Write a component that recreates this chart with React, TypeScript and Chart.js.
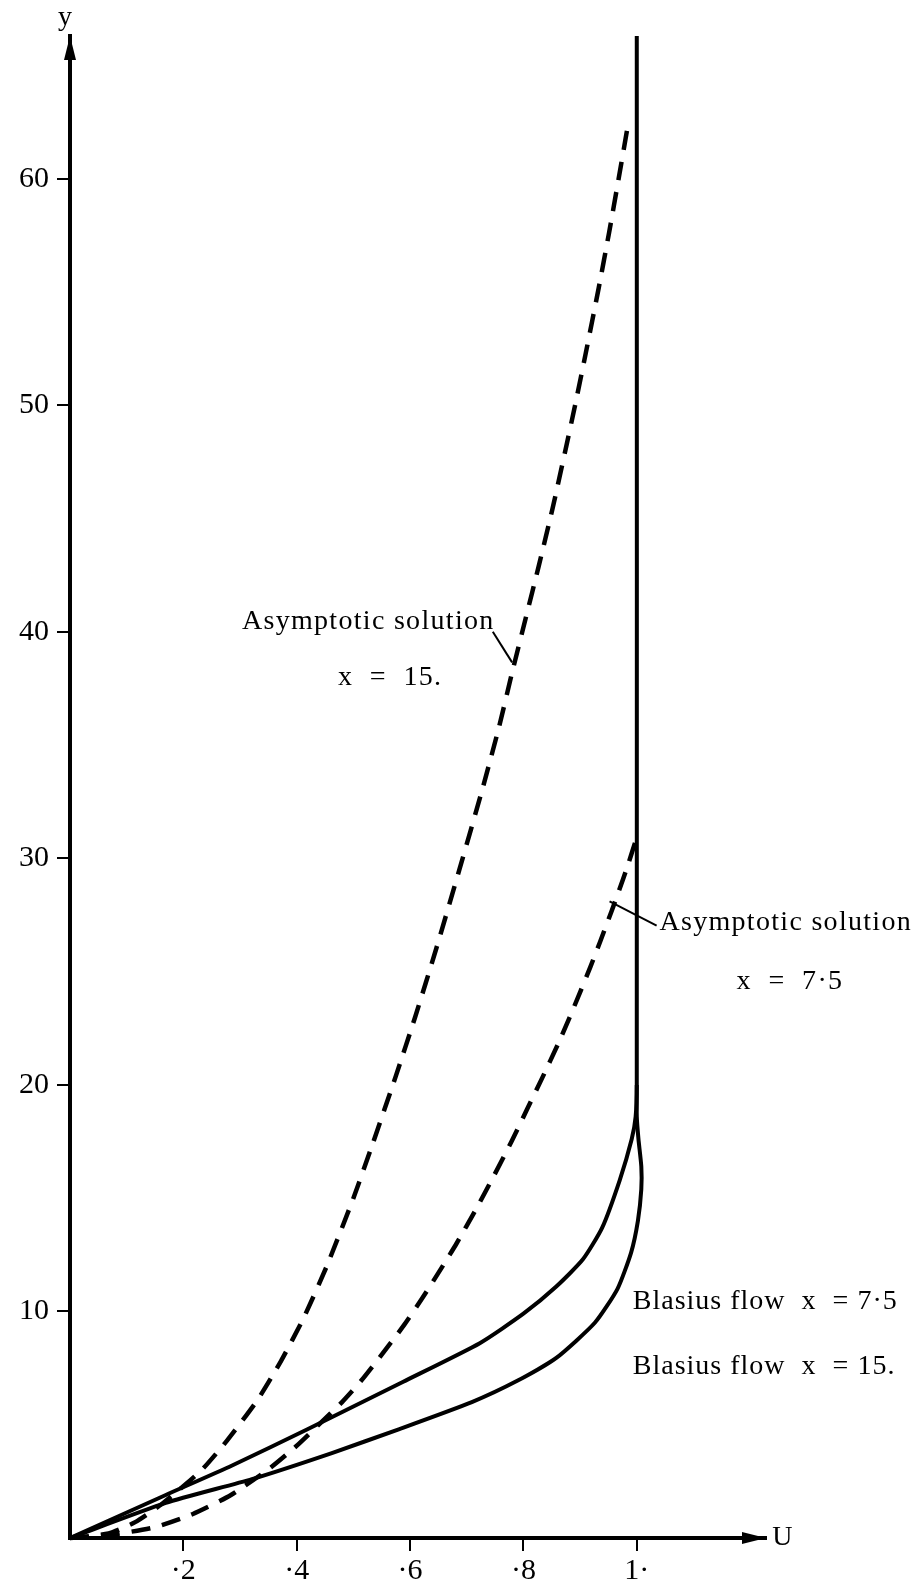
import React, { useEffect, useRef } from "react";
import { Chart, registerables } from "chart.js";

Chart.register(...registerables);

// ---- axes ----
const U_MAX = 1.228;
const Y_MAX = 66.3;
const X_TICKS = [0.2, 0.4, 0.6, 0.8, 1.0];
const X_TICK_LABELS = ["·2", "·4", "·6", "·8", "1·"];
const Y_TICKS = [10, 20, 30, 40, 50, 60];
const Y_TICK_LABELS = ["10", "20", "30", "40", "50", "60"];

// ---- Blasius flow x = 7.5 (solid, merges into U = 1 line) ----
const blasius75U = [0, 0.169, 0.286, 0.419, 0.588, 0.723, 0.8, 0.858, 0.905, 0.939, 0.97, 0.991, 0.998, 1.0, 1.0];
const blasius75Y = [0, 1.9, 3.2, 4.8, 6.9, 8.6, 9.9, 11.1, 12.3, 13.7, 15.8, 17.6, 18.6, 20, 66.3];

// ---- Blasius flow x = 15 (solid) ----
const blasius15U = [0, 0.169, 0.321, 0.462, 0.58, 0.709, 0.79, 0.858, 0.926, 0.966, 0.99, 1.002, 1.008, 1.008, 1.003, 1.0, 1.0];
const blasius15Y = [0, 1.55, 2.6, 3.75, 4.8, 6.0, 6.95, 7.95, 9.5, 11.0, 12.6, 14.0, 15.4, 16.4, 17.6, 18.6, 20];

// ---- Asymptotic solution x = 15 (dashed) ----
const asym15U = [0, 0.068, 0.115, 0.162, 0.203, 0.236, 0.277, 0.331, 0.372, 0.412, 0.453, 0.5, 0.534, 0.575, 0.609, 0.646, 0.687, 0.727, 0.757, 0.78, 0.804, 0.827, 0.851, 0.874, 0.892, 0.91, 0.933, 0.951, 0.968, 0.986];
const asym15Y = [0, 0.2, 0.7, 1.5, 2.35, 3.1, 4.3, 6.1, 7.8, 9.7, 12.0, 15.0, 17.4, 20.4, 23.0, 26.0, 29.5, 33.0, 35.8, 38.2, 40.6, 42.9, 45.4, 48.0, 50.1, 52.3, 55.2, 57.6, 60.0, 62.6];

// ---- Asymptotic solution x = 7.5 (dashed) ----
const asym75U = [0, 0.068, 0.149, 0.216, 0.284, 0.351, 0.399, 0.439, 0.48, 0.514, 0.547, 0.588, 0.622, 0.655, 0.682, 0.716, 0.745, 0.779, 0.806, 0.833, 0.861, 0.881, 0.901, 0.918, 0.935, 0.956, 0.969, 0.983, 0.997];
const asym75Y = [0, 0.13, 0.47, 1.05, 1.9, 3.05, 4.05, 5.0, 6.0, 6.95, 8.0, 9.35, 10.6, 11.9, 13.0, 14.5, 15.85, 17.5, 18.9, 20.3, 21.8, 22.95, 24.15, 25.2, 26.3, 27.7, 28.6, 29.6, 30.7];

const zip = (us: number[], ys: number[]) => us.map((u, i) => ({ x: u, y: ys[i] }));

const FONT = '"Liberation Serif", "DejaVu Serif", serif';

const annotationPlugin = {
  id: "figureAnnotations",
  afterDraw(chart: any) {
    const { ctx, chartArea } = chart;
    const xs = chart.scales.x;
    const ys = chart.scales.y;
    const px = (u: number) => xs.getPixelForValue(u);
    const py = (v: number) => ys.getPixelForValue(v);
    ctx.save();
    ctx.fillStyle = "#000";
    ctx.strokeStyle = "#000";

    // arrow heads
    const ox = px(0);
    const oy = py(0);
    ctx.beginPath();
    ctx.moveTo(ox, chartArea.top);
    ctx.lineTo(ox - 6, chartArea.top + 24);
    ctx.lineTo(ox + 6, chartArea.top + 24);
    ctx.closePath();
    ctx.fill();
    ctx.beginPath();
    ctx.moveTo(chartArea.right, oy);
    ctx.lineTo(chartArea.right - 24, oy - 6);
    ctx.lineTo(chartArea.right - 24, oy + 6);
    ctx.closePath();
    ctx.fill();

    // axis names
    ctx.font = `28px ${FONT}`;
    ctx.textAlign = "center";
    ctx.textBaseline = "middle";
    ctx.fillText("y", px(-0.009), py(67.1));
    ctx.fillText("U", px(1.257), py(0));

    // labels
    ctx.textAlign = "left";
    (ctx as any).letterSpacing = "1.3px";
    const labels: [string, number, number][] = [
      ["Asymptotic solution", 0.3034, 40.46],
      ["x  =  15.", 0.4727, 37.99],
      ["Asymptotic solution", 1.04, 27.16],
      ["x  =  7·5", 1.176, 24.56],
    ];
    labels.forEach(([t, u, v]) => ctx.fillText(t, px(u), py(v)));
    (ctx as any).letterSpacing = "1px";
    const labels2: [string, number, number][] = [
      ["Blasius flow  x  = 7·5", 0.993, 10.42],
      ["Blasius flow  x  = 15.", 0.993, 7.55],
    ];
    labels2.forEach(([t, u, v]) => ctx.fillText(t, px(u), py(v)));
    (ctx as any).letterSpacing = "0px";

    // leader lines
    ctx.lineWidth = 2;
    const leaders: [number, number, number, number][] = [
      [0.746, 40.0, 0.78, 38.65],
      [0.952, 28.1, 1.035, 27.03],
    ];
    leaders.forEach(([u1, v1, u2, v2]) => {
      ctx.beginPath();
      ctx.moveTo(px(u1), py(v1));
      ctx.lineTo(px(u2), py(v2));
      ctx.stroke();
    });
    ctx.restore();
  },
};

export default function App() {
  const ref = useRef<HTMLCanvasElement | null>(null);
  useEffect(() => {
    if (!ref.current) return;
    const solid = { borderColor: "#000", borderWidth: 4, pointRadius: 0, showLine: true, tension: 0.2, fill: false, clip: false as any };
    const dashed = { ...solid, borderWidth: 4.5, borderDash: [19, 12] };
    const chart = new Chart(ref.current, {
      type: "scatter",
      data: {
        datasets: [
          { label: "Blasius flow x = 7·5", data: zip(blasius75U, blasius75Y), ...solid },
          { label: "Blasius flow x = 15.", data: zip(blasius15U, blasius15Y), ...solid },
          { label: "Asymptotic solution x = 15.", data: zip(asym15U, asym15Y), ...dashed },
          { label: "Asymptotic solution x = 7·5", data: zip(asym75U, asym75Y), ...dashed },
        ],
      },
      options: {
        animation: false,
        responsive: false,
        devicePixelRatio: 1,
        layout: { padding: { left: 0, top: 36, right: 157, bottom: 0 } },
        plugins: { legend: { display: false }, tooltip: { enabled: false }, title: { display: false } },
        scales: {
          x: {
            type: "linear",
            position: "bottom",
            min: 0,
            max: U_MAX,
            afterBuildTicks: (s: any) => {
              s.ticks = X_TICKS.map((v) => ({ value: v }));
            },
            afterFit: (s: any) => {
              s.height = 50;
            },
            grid: { drawOnChartArea: false, drawTicks: true, tickLength: 13, lineWidth: 2, color: "#000" },
            border: { display: true, width: 4, color: "#000" },
            ticks: {
              autoSkip: false,
              maxRotation: 0,
              padding: 2,
              color: "#000",
              font: { family: FONT, size: 30 },
              callback: (v: any) => {
                const i = X_TICKS.findIndex((t) => Math.abs(t - Number(v)) < 1e-6);
                return i >= 0 ? X_TICK_LABELS[i] : "";
              },
            },
          },
          y: {
            type: "linear",
            position: "left",
            min: 0,
            max: Y_MAX,
            afterBuildTicks: (s: any) => {
              s.ticks = Y_TICKS.map((v) => ({ value: v }));
            },
            afterFit: (s: any) => {
              s.width = 70;
            },
            grid: { drawOnChartArea: false, drawTicks: true, tickLength: 13, lineWidth: 2, color: "#000" },
            border: { display: true, width: 4, color: "#000" },
            ticks: {
              autoSkip: false,
              padding: 8,
              color: "#000",
              font: { family: FONT, size: 30 },
              callback: (v: any) => {
                const i = Y_TICKS.findIndex((t) => Math.abs(t - Number(v)) < 1e-6);
                return i >= 0 ? Y_TICK_LABELS[i] : "";
              },
            },
          },
        },
      },
      plugins: [annotationPlugin],
    });
    return () => chart.destroy();
  }, []);
  return (
    <div style={{ position: "absolute", left: 0, top: 0, width: 923, height: 1588, background: "#fff" }}>
      <canvas ref={ref} width={923} height={1588} style={{ display: "block", width: 923, height: 1588 }} />
    </div>
  );
}
